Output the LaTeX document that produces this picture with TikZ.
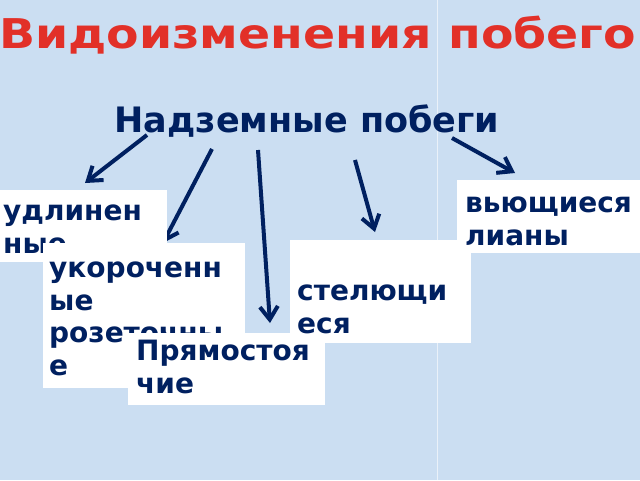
\documentclass[tikz,border=0pt]{standalone}
\usepackage{fontspec}
\setsansfont{DejaVu Sans}
\newfontfamily\titlefont{DejaVu Sans}[FakeStretch=1.155]
\usetikzlibrary{arrows.meta}
\definecolor{bgblue}{RGB}{203,222,242}
\definecolor{navy}{RGB}{0,32,96}
\definecolor{titlered}{RGB}{226,48,40}
\tikzset{
  titletext/.style={font=\titlefont\bfseries\fontsize{41}{48}\selectfont, text=titlered, inner sep=0pt},
  subtext/.style={font=\sffamily\bfseries\fontsize{35}{40}\selectfont, text=navy, inner sep=0pt},
  whitebox/.style={fill=white, draw=none, rectangle, inner sep=0pt, anchor=north west},
  boxtext/.style={font=\sffamily\bfseries\fontsize{28}{32.5}\selectfont, text=navy, inner sep=0pt, align=left, anchor=base west},
  arr/.style={draw=navy, line width=4pt, -{Straight Barb[length=13pt,width=18pt]}}
}
\begin{document}
\begin{tikzpicture}[x=1pt,y=-1pt]
\useasboundingbox (0,0) rectangle (640,480);
\clip (0,0) rectangle (640,480);
\fill[bgblue] (0,0) rectangle (640,480);
\draw[white, opacity=0.6, line width=1pt] (437,0) -- (437,480);

\node[titletext, anchor=base west] (title) at (-1,48) {Видоизменения побего};
\node[subtext, anchor=base] (root) at (307,132) {Надземные побеги};

\coordinate (s1) at (147,135); \coordinate (e1) at (85,183);
\coordinate (s2) at (212,149); \coordinate (e2) at (163,243);
\coordinate (s3) at (258,150); \coordinate (e3) at (270,323);
\coordinate (s4) at (355,160); \coordinate (e4) at (375,232);
\coordinate (s5) at (452,138); \coordinate (e5) at (515,173);
\draw[arr] (s1) -- (e1);
\draw[arr] (s2) -- (e2);
\draw[arr] (s3) -- (e3);
\draw[arr] (s4) -- (e4);
\draw[arr] (s5) -- (e5);

\node[whitebox, minimum width=167pt, minimum height=72pt] (udlB) at (0,190) {};
\node[boxtext] (udl) at (3,253) {удлинен\\ные};

\node[whitebox, minimum width=202pt, minimum height=145pt] (ukorB) at (43,243) {};
\node[boxtext] (ukor) at (49,375) {укороченн\\ые\\розеточны\\е};

\node[whitebox, minimum width=197pt, minimum height=72pt] (prB) at (128,333) {};
\node[boxtext] (pr) at (136,393) {Прямостоя\\чие};

\node[whitebox, minimum width=181pt, minimum height=103pt] (stelB) at (290,240) {};
\node[boxtext] (stel) at (297,333) {стелющи\\еся};

\node[whitebox, minimum width=190pt, minimum height=73pt] (vyuB) at (457,180) {};
\node[boxtext] (vyu) at (465,245) {вьющиеся\\лианы};
\end{tikzpicture}
\end{document}
